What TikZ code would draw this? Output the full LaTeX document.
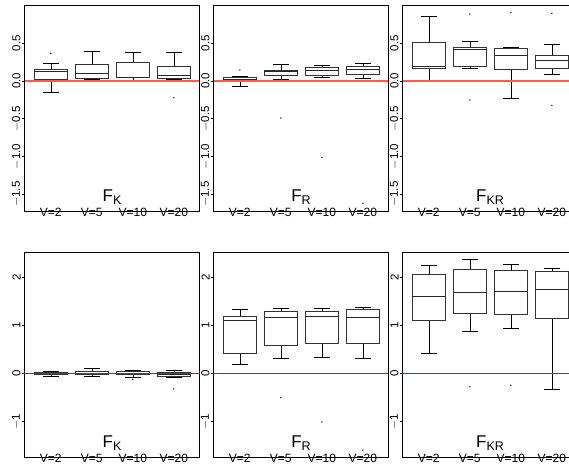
\documentclass[tikz,border=0pt]{standalone}
\usepackage{fontspec}
\setmainfont{Liberation Sans}
\newcommand{\bxp}[6]{%
  \draw[whisk] (#1,#2) -- (#1,#3);
  \draw[whisk] (#1-8,#2) -- (#1+8,#2);
  \draw[whisk] (#1,#5) -- (#1,#6);
  \draw[whisk] (#1-8,#6) -- (#1+8,#6);
  \draw[boxs] (#1-16.5,#3) rectangle (#1+16.5,#5);
  \draw[med] (#1-16.5,#4) -- (#1+16.5,#4);
}
\newcommand{\outl}[2]{\fill[black] (#1,#2) circle (0.75);}
\begin{document}
\begin{tikzpicture}[x=1pt,y=-1pt,
  frame/.style={draw=black, line width=0.8pt},
  whisk/.style={draw=black, line width=0.6pt},
  boxs/.style={draw=black!80, line width=0.9pt},
  med/.style={draw=black!85, line width=0.9pt},
  zlinetop/.style={draw=red!65, line width=1.1pt},
  zlinebot/.style={draw=red, line width=0.8pt},
  ticklab/.style={font=\fontsize{11.5}{12}\selectfont, rotate=90, inner sep=0pt},
  vlab/.style={font=\fontsize{12}{12}\selectfont, inner sep=0pt},
  ftitle/.style={anchor=base, inner sep=0pt},
  tickmark/.style={draw=black, line width=0.6pt}]
\useasboundingbox (0,0) rectangle (569,464);
\clip (0,0) rectangle (569,464);
\fill[white] (0,0) rectangle (569,464);

% ---------- axes, tick labels, V labels ----------
\foreach \L [count=\i] in {24,213,402} {
  % top row
  \foreach \v/\t in {0.5/0.5, 0/0.0, -0.5/{$-$0.5}, -1/{$-$1.0}, -1.5/{$-$1.5}} {
    \draw[tickmark] (\L-2.5,81-75.4*\v) -- (\L,81-75.4*\v);
    \node[ticklab] (tt\i\v) at (\L-7.5,81-75.4*\v) {\t};
  }
  % bottom row
  \foreach \v/\t in {2/2, 1/1, 0/0, -1/{$-$1}} {
    \draw[tickmark] (\L-2.5,373.7-48*\v) -- (\L,373.7-48*\v);
    \node[ticklab] (tb\i\v) at (\L-7.5,373.7-48*\v) {\t};
  }
  \foreach \c/\t [count=\j] in {26.8/V=2, 67.8/V=5, 108.8/V=10, 149.8/V=20} {
    \node[vlab] (vt\i\j) at (\L+\c,212.5) {\t};
    \node[vlab] (vb\i\j) at (\L+\c,458.5) {\t};
  }
}

% ---------- top row boxes ----------
% panel 1
\bxp{50.8}{63.3}{69.3}{71.7}{79}{92}
\outl{50.8}{53.3}
\bxp{91.8}{51.7}{64}{73.3}{78.7}{79.3}
\bxp{132.8}{52.3}{62.3}{77}{77.7}{80}
\bxp{173.8}{52.7}{66.3}{75}{78.3}{79.7}
\outl{173.8}{97.7}
% panel 2
\bxp{239.8}{76}{77.3}{79}{81}{86}
\outl{239.8}{70}
\bxp{280.8}{64.3}{70}{71.7}{75}{79}
\outl{280.8}{118}
\bxp{321.8}{65}{67.3}{70.7}{75}{77.3}
\outl{321.8}{157.3}
\bxp{362.8}{63.3}{66.7}{69.3}{74}{78.7}
\outl{362.8}{203.3}
% panel 3
\bxp{428.8}{16}{42}{66.7}{68.3}{81.7}
\bxp{469.8}{41.7}{47.3}{49.7}{66.7}{68.7}
\outl{469.8}{14}\outl{469.8}{100}
\bxp{510.8}{47.7}{48.3}{55.7}{69.7}{98.7}
\outl{510.8}{12.7}
\bxp{551.8}{44.3}{55.7}{60.7}{68.3}{74.3}
\outl{551.8}{13.3}\outl{551.8}{105.3}

% ---------- bottom row boxes ----------
\bxp{50.8}{371.3}{372}{373.3}{374.7}{376}
\bxp{91.8}{368.3}{371.3}{373.3}{374.7}{376.7}
\bxp{132.8}{370.3}{371.3}{373}{374.3}{377}
\outl{132.8}{379.3}
\bxp{173.8}{370.3}{372}{374}{376.7}{377}
\outl{173.8}{389}
% panel 2
\bxp{239.8}{309.3}{316}{320.7}{353.3}{364.7}
\bxp{280.8}{308.7}{311.3}{317.3}{345.3}{358.7}
\outl{280.8}{397.7}
\bxp{321.8}{308.7}{311}{316.7}{343.7}{357.3}
\outl{321.8}{422}
\bxp{362.8}{307.7}{309.3}{317.3}{343}{358}
\outl{362.8}{450}
% panel 3
\bxp{428.8}{265.3}{274.7}{296.3}{320.3}{353.3}
\bxp{469.8}{259.7}{269.3}{292.3}{313}{331}
\outl{469.8}{386.7}
\bxp{510.8}{264.3}{270}{291.7}{314.7}{328.3}
\outl{510.8}{385.3}
\bxp{551.8}{268.7}{271.3}{289.3}{318.7}{389.7}

% ---------- zero lines ----------
\foreach \L in {24,213,402} {
  \draw[zlinetop] (\L,81) -- (\L+175.5,81);
  \draw[zlinebot] (\L,373.7) -- (\L+175.5,373.7);
}

% ---------- frames ----------
\foreach \L in {24,213,402} {
  \draw[frame] (\L,5) rectangle (\L+175.5,211);
  \draw[frame] (\L,252) rectangle (\L+175.5,457);
}

% ---------- panel titles ----------
\foreach \r/\y in {t/201, b/447} {
  \node[ftitle] (fk\r) at (112,\y) {\fontsize{17}{17}\selectfont F\raisebox{-3.8pt}{\fontsize{12.5}{12.5}\selectfont K}};
  \node[ftitle] (fr\r) at (301,\y) {\fontsize{17}{17}\selectfont F\raisebox{-3.8pt}{\fontsize{12.5}{12.5}\selectfont R}};
  \node[ftitle] (fkr\r) at (490,\y) {\fontsize{17}{17}\selectfont F\raisebox{-3.8pt}{\fontsize{12.5}{12.5}\selectfont KR}};
}
\end{tikzpicture}
\end{document}
